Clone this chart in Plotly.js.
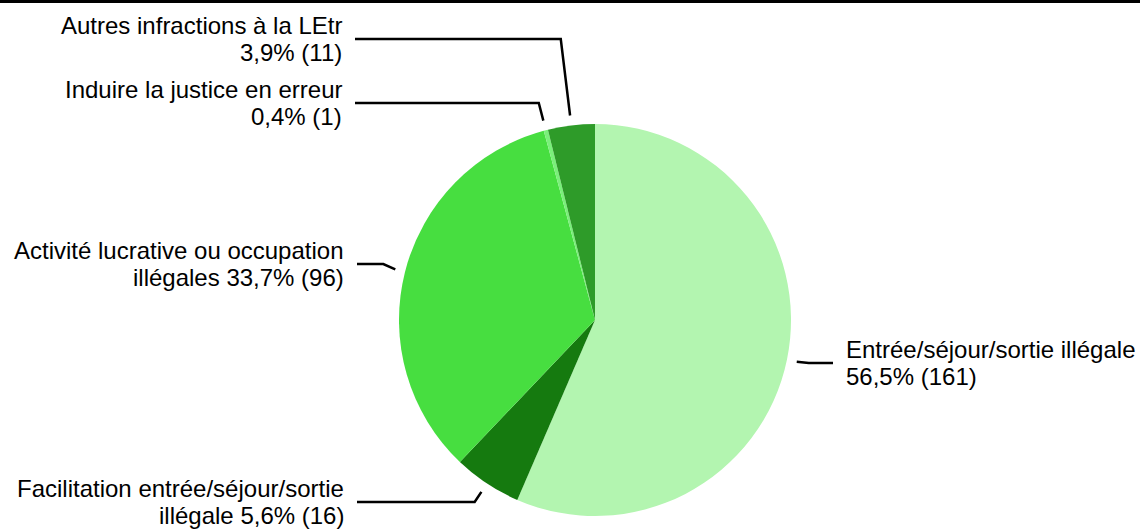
<!DOCTYPE html>
<html><head><meta charset="utf-8">
<script src="https://cdn.plot.ly/plotly-3.0.1.min.js"></script>
<style>html,body{margin:0;padding:0;background:#fff}#chart{width:1140px;height:530px}</style>
</head><body><div id="chart"></div>
<script>
const categories = ["Entrée/séjour/sortie illégale","Facilitation entrée/séjour/sortie illégale","Activité lucrative ou occupation illégales","Induire la justice en erreur","Autres infractions à la LEtr"];
const counts = [161, 16, 96, 1, 11];
const labelLines = [
  ["Entrée/séjour/sortie illégale", "56,5% (161)"],
  ["Facilitation entrée/séjour/sortie", "illégale 5,6% (16)"],
  ["Activité lucrative ou occupation", "illégales 33,7% (96)"],
  ["Induire la justice en erreur", "0,4% (1)"],
  ["Autres infractions à la LEtr", "3,9% (11)"]
];
const colors = ["#b3f5b0","#157a0f","#47de40","#7af07a","#2e9b29"];

// layout (pixels)
const W = 1140, H = 530, cx = 595, cy = 320, R = 196, LINE_GAP = 27;
const labelPos = [
  {x: 844, y: 363, side: "left"},
  {x: 346, y: 502, side: "right"},
  {x: 346, y: 264, side: "right"},
  {x: 344, y: 103, side: "right"},
  {x: 344, y: 39,  side: "right"}
];

const px = x => x / W, py = y => 1 - y / H;
const total = counts.reduce((a,b)=>a+b,0);
const shapes = [{type:"line", xref:"paper", yref:"paper", x0:0, x1:1, y0:py(1.5), y1:py(1.5), line:{color:"#000", width:3}}];
const annotations = [];
let cum = 0;
counts.forEach((v,i)=>{
  const mid = (cum + v/2) / total * 2*Math.PI; cum += v;
  const s = Math.sin(mid), c = -Math.cos(mid);
  const r0 = R + 10;
  const x0 = cx + r0*s, y0 = cy + r0*c;
  const L = labelPos[i];
  let ex, ey;
  if (Math.abs(c) > 0.3) { const t = (L.y - cy)/c; ex = cx + t*s; ey = L.y; }
  else { ex = x0 + (s>0?12:-12); ey = L.y; }
  const endX = L.side === "left" ? L.x - 11 : L.x + 11;
  shapes.push({type:"path", xref:"paper", yref:"paper",
    path:`M ${px(x0)} ${py(y0)} L ${px(ex)} ${py(ey)} L ${px(endX)} ${py(ey)}`,
    line:{color:"#000", width:2.5}});
  labelLines[i].forEach((t,k)=>{
    annotations.push({xref:"paper", yref:"paper", x:px(L.x), y:py(L.y + (k-0.5)*LINE_GAP), text:t,
      showarrow:false, xanchor:L.side, yanchor:"middle", align:L.side,
      font:{family:"Liberation Sans, Arial, sans-serif", size:24, color:"#000"}});
  });
});

const data = [{
  type:"pie", labels:categories, values:counts, sort:false, direction:"clockwise", rotation:0,
  marker:{colors:colors, line:{width:0}}, textinfo:"none", hoverinfo:"label+value+percent",
  domain:{x:[(cx-R)/W,(cx+R)/W], y:[1-(cy+R)/H, 1-(cy-R)/H]}
}];
const layout = {width:W, height:H, margin:{l:0,r:0,t:0,b:0}, showlegend:false,
  paper_bgcolor:"#fff", plot_bgcolor:"#fff", shapes, annotations,
  font:{family:"Liberation Sans, Arial, sans-serif"}};
Plotly.newPlot("chart", data, layout, {displayModeBar:false, staticPlot:true});
</script></body></html>
